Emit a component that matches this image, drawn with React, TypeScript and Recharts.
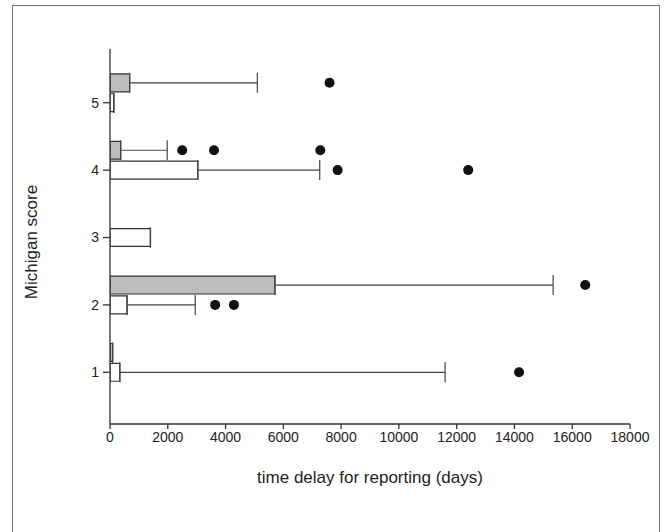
import { ComposedChart, Bar, Cell, ErrorBar, Scatter, XAxis, YAxis } from 'recharts';

// Michigan score categories
const scores = [1, 2, 3, 4, 5];

// white boxes (lower one of each pair)
const whiteBoxEnd = [340, 590, 1400, 3040, 130];
const whiteWhiskerEnd = [11600, 2950, 1400, 7260, 130];
const whiteOutliers = [[14160], [3640, 4290], [], [7880, 12400], []];

// grey boxes (upper one of each pair), null = no box
const grayBoxEnd = [90, 5710, null, 370, 680];
const grayWhiskerEnd = [90, 15340, null, 1980, 5100];
const grayOutliers = [[], [16450], [], [2500, 3600, 7280], [7600]];

const xTicks = [0, 2000, 4000, 6000, 8000, 10000, 12000, 14000, 16000, 18000];

const GRAY_SHIFT = 0.295;
const FONT = '"Liberation Sans", Arial, sans-serif';

const rows: { y: number; end: number; whisker: number[]; fill: string }[] = [];
const points: { x: number; y: number }[] = [];

scores.forEach((s, i) => {
  rows.push({
    y: s,
    end: whiteBoxEnd[i],
    whisker: [0, whiteWhiskerEnd[i] - whiteBoxEnd[i]],
    fill: '#ffffff',
  });
  whiteOutliers[i].forEach((x) => points.push({ x, y: s }));
  const g = grayBoxEnd[i];
  if (g !== null) {
    rows.push({
      y: s + GRAY_SHIFT,
      end: g,
      whisker: [0, (grayWhiskerEnd[i] as number) - g],
      fill: '#bdbdbd',
    });
  }
  grayOutliers[i].forEach((x) => points.push({ x, y: s + GRAY_SHIFT }));
});

const OutlierDot = (props: any) => <circle cx={props.cx} cy={props.cy} r={5} fill="#111" />;

export default function App() {
  return (
    <div style={{ position: 'absolute', left: 0, top: 0, width: 668, height: 532, background: '#fff', overflow: 'hidden' }}>
      <div
        style={{
          position: 'absolute',
          left: 12,
          top: 5,
          width: 648,
          height: 540,
          border: '1.5px solid #707070',
          boxSizing: 'border-box',
        }}
      />
      <div style={{ position: 'absolute', left: 0, top: 0 }}>
        <ComposedChart
          width={668}
          height={532}
          layout="vertical"
          data={rows}
          margin={{ top: 49, right: 38, bottom: 78, left: 50 }}
        >
          <XAxis
            type="number"
            domain={[0, 18000]}
            ticks={xTicks}
            interval={0}
            allowDataOverflow
            height={30}
            tickSize={5}
            tickMargin={3}
            stroke="#333"
            strokeWidth={1.3}
            tick={{ fill: '#222', fontSize: 14, fontFamily: FONT }}
            label={{
              value: 'time delay for reporting (days)',
              position: 'bottom',
              offset: 17,
              fill: '#222',
              fontSize: 17,
              fontFamily: FONT,
            }}
          />
          <YAxis
            type="number"
            dataKey="y"
            domain={[0.233, 5.797]}
            ticks={scores}
            interval={0}
            allowDataOverflow
            reversed
            width={60}
            tickSize={7}
            tickMargin={4}
            stroke="#333"
            strokeWidth={1.3}
            tick={{ fill: '#222', fontSize: 14, fontFamily: FONT }}
          />
          <Bar dataKey="end" barSize={20} stroke="#333" strokeWidth={1.2} isAnimationActive={false}>
            {rows.map((r, i) => (
              <Cell key={i} fill={r.fill} />
            ))}
            <ErrorBar dataKey="whisker" direction="x" width={10} stroke="#444" strokeWidth={1.2} />
          </Bar>
          <Scatter data={points} dataKey="x" shape={OutlierDot} isAnimationActive={false} />
        </ComposedChart>
      </div>
      <svg style={{ position: 'absolute', left: 0, top: 0 }} width={668} height={532}>
        <text
          x={0}
          y={0}
          transform="translate(37 242) rotate(-90)"
          textAnchor="middle"
          fill="#222"
          fontSize={17}
          fontFamily={FONT}
        >
          Michigan score
        </text>
      </svg>
    </div>
  );
}
